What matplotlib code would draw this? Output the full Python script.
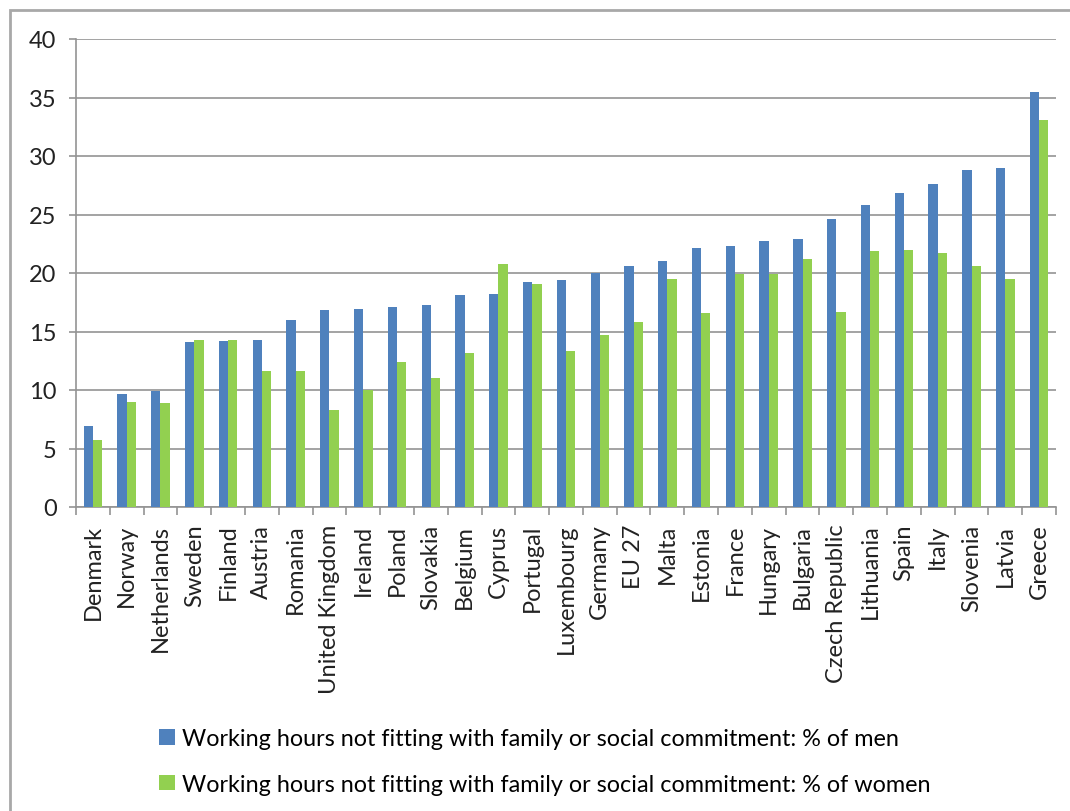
import numpy as np
import matplotlib
matplotlib.use("Agg")
import matplotlib.pyplot as plt
from matplotlib.patches import Rectangle

plt.rcParams['font.family'] = ['Lato', 'DejaVu Sans']

# Dane
countries = ["Denmark", "Norway", "Netherlands", "Sweden", "Finland", "Austria",
             "Romania", "United Kingdom", "Ireland", "Poland", "Slovakia", "Belgium",
             "Cyprus", "Portugal", "Luxembourg", "Germany", "EU 27", "Malta",
             "Estonia", "France", "Hungary", "Bulgaria", "Czech Republic",
             "Lithuania", "Spain", "Italy", "Slovenia", "Latvia", "Greece"]
men = [6.9, 9.7, 9.9, 14.1, 14.2, 14.3, 16.0, 16.8, 16.9, 17.1, 17.3, 18.1,
       18.2, 19.2, 19.4, 20.0, 20.6, 21.0, 22.1, 22.3, 22.7, 22.9, 24.6,
       25.8, 26.8, 27.6, 28.8, 29.0, 35.5]
women = [5.7, 9.0, 8.9, 14.3, 14.3, 11.6, 11.6, 8.3, 10.0, 12.4, 11.0, 13.2,
         20.8, 19.1, 13.3, 14.7, 15.8, 19.5, 16.6, 19.9, 19.9, 21.2, 16.7,
         21.9, 22.0, 21.7, 20.6, 19.5, 33.1]
labels = ["Working hours not fitting with family or social commitment: % of men",
          "Working hours not fitting with family or social commitment: % of women"]

blue = '#4F81BD'
green = '#92D050'
grey = '#949494'

W, H = 1070, 812
fig = plt.figure(figsize=(W / 100, H / 100), dpi=100)

# ramka calego wykresu
fig.patches.append(Rectangle((10 / W, -0.05), 1.1, 1 - 11 / H + 0.05,
                             transform=fig.transFigure, fill=False,
                             edgecolor='#A8A8A8', linewidth=2))

ax = fig.add_axes([76 / W, 1 - 508 / H, (1056 - 76) / W, (508 - 40) / H])

x = np.arange(len(countries))
bw = 0.275
ax.bar(x - bw / 2, men, bw, color=blue, label=labels[0], zorder=3)
ax.bar(x + bw / 2, women, bw, color=green, label=labels[1], zorder=3)

ax.set_xlim(-0.5, len(countries) - 0.5)
ax.set_ylim(0, 40)
ax.set_yticks(range(0, 41, 5))
ax.yaxis.grid(True, color=grey, linewidth=1.2, zorder=0)
ax.set_axisbelow(True)

for s in ['top', 'right']:
    ax.spines[s].set_visible(False)
for s in ['left', 'bottom']:
    ax.spines[s].set_color(grey)
    ax.spines[s].set_linewidth(1.2)

ax.set_xticks(x)
ax.set_xticklabels(countries, rotation=90, fontsize=17, color='#222222')
ax.set_xticks(np.arange(-0.5, len(countries), 1), minor=True)
ax.tick_params(axis='x', which='major', length=0, pad=12)
ax.tick_params(axis='x', which='minor', length=6, color=grey, width=1.2)
ax.tick_params(axis='y', length=5, color=grey, width=1.2, pad=9,
               labelsize=17, labelcolor='#222222')

fig.legend(loc='upper left', bbox_to_anchor=(150 / W, 1 - 720 / H),
           frameon=False, fontsize=16.8, handlelength=0.65, handleheight=0.65,
           handletextpad=0.3, labelspacing=1.05, borderaxespad=0)

fig.savefig('out.png', dpi=100)
